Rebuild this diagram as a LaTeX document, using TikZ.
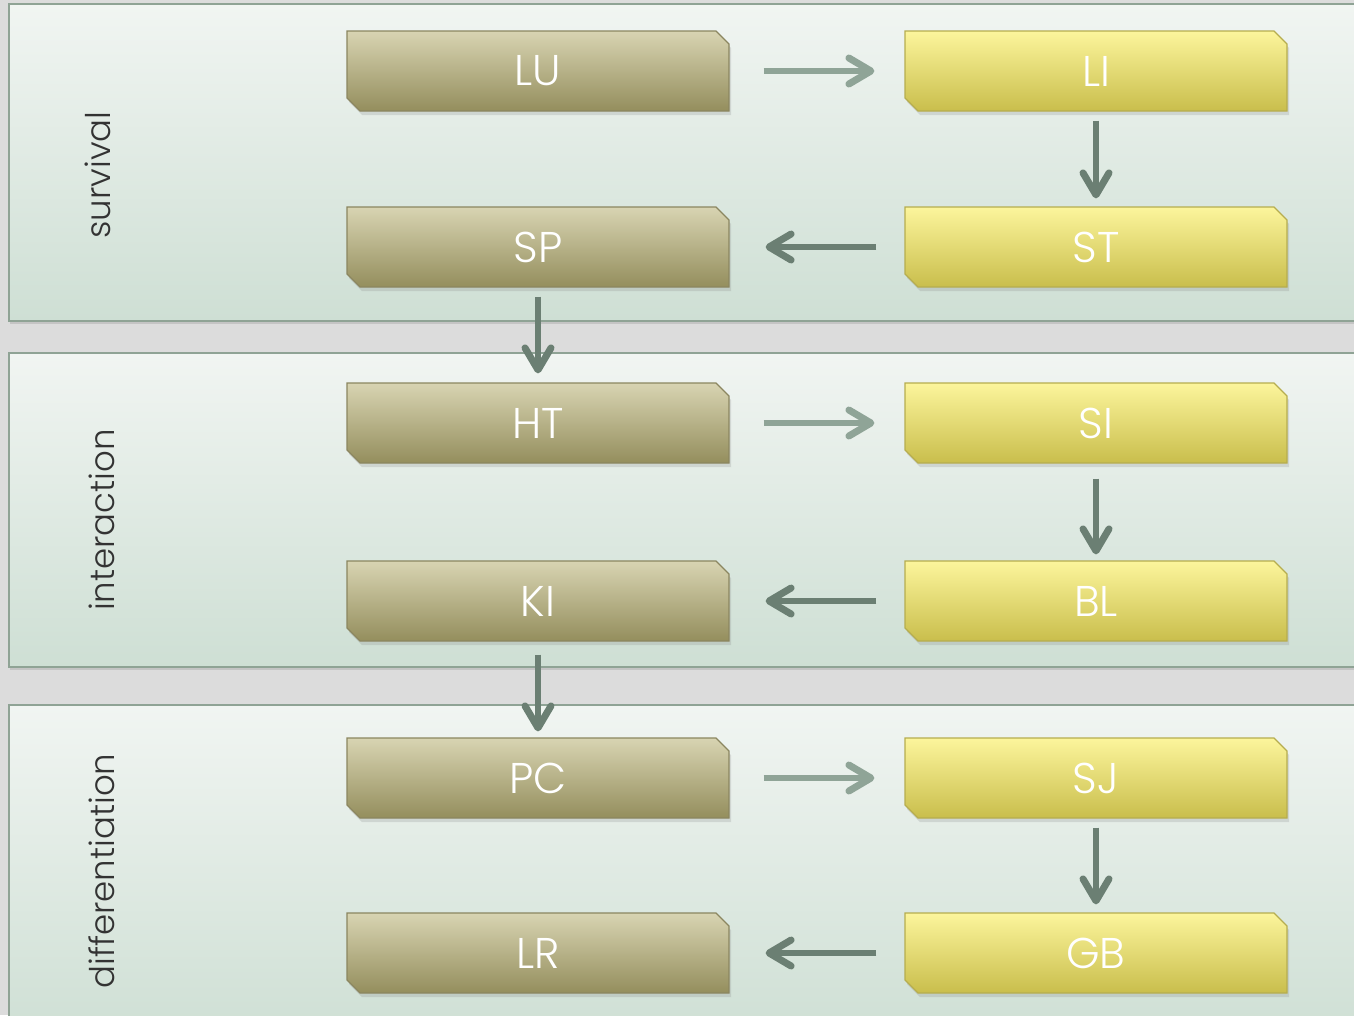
\documentclass[tikz,border=0pt]{standalone}
\usepackage{fontspec}
\setmainfont{Poppins}[UprightFont={* Light}]
\usetikzlibrary{shapes.misc,arrows.meta,shadows}
\definecolor{bg}{HTML}{DCDCDC}
\definecolor{bandtop}{HTML}{F1F5F2}
\definecolor{bandbot}{HTML}{CEDFD4}
\definecolor{bandedge}{HTML}{8FA395}
\definecolor{ltop}{HTML}{D8D4B2}
\definecolor{lbot}{HTML}{948E5D}
\definecolor{ledge}{HTML}{8B8660}
\definecolor{rtop}{HTML}{FCF59C}
\definecolor{rbot}{HTML}{C9BE4C}
\definecolor{redge}{HTML}{B6AD4F}
\definecolor{arlight}{HTML}{8FA497}
\definecolor{ardark}{HTML}{6B7F73}
\definecolor{labtext}{HTML}{333333}
\begin{document}
\begin{tikzpicture}[x=1pt,y=-1pt,
  band/.style={draw=bandedge, line width=1.5pt, top color=bandtop, bottom color=bandbot,
    drop shadow={shadow xshift=1pt, shadow yshift=-3pt, opacity=0.25}},
  boxbase/.style={chamfered rectangle, chamfered rectangle corners={north east,south west},
    chamfered rectangle xsep=6.5pt, chamfered rectangle ysep=6.5pt,
    minimum width=382pt, minimum height=80pt, inner sep=0pt, line width=1.2pt,
    text=white, font=\fontsize{43}{46}\selectfont,
    drop shadow={shadow xshift=2pt, shadow yshift=-4pt, opacity=0.22}},
  lbox/.style={boxbase, draw=ledge, top color=ltop, bottom color=lbot},
  rbox/.style={boxbase, draw=redge, top color=rtop, bottom color=rbot},
  bandlabel/.style={rotate=90, text=labtext, font=\fontsize{34}{38}\selectfont, inner sep=0pt},
  arr/.style={line width=5.5pt, -{Straight Barb[length=22pt,width=26pt,line width=7pt,round]}},
  arl/.style={arr, draw=arlight},
  ard/.style={arr, draw=ardark}
]
\useasboundingbox (0,0) rectangle (1354,1015);
\fill[bg] (0,0) rectangle (1354,1015);
\path[band] (9,4) rectangle (1372,321);
\path[band] (9,353) rectangle (1372,667);
\path[band] (9,705) rectangle (1372,1040);

\node[bandlabel] (lab1) at (98,175) {survival};
\node[bandlabel] (lab2) at (102,520) {interaction};
\node[bandlabel] (lab3) at (102,871) {differentiation};

\node[lbox] (LU) at (538,71) {LU};
\node[rbox] (LI) at (1096,71) {LI};
\node[lbox] (SP) at (538,247) {SP};
\node[rbox] (ST) at (1096,247) {ST};
\node[lbox] (HT) at (538,423) {HT};
\node[rbox] (SI) at (1096,423) {SI};
\node[lbox] (KI) at (538,601) {KI};
\node[rbox] (BL) at (1096,601) {BL};
\node[lbox] (PC) at (538,778) {PC};
\node[rbox] (SJ) at (1096,778) {SJ};
\node[lbox] (LR) at (538,953) {LR};
\node[rbox] (GB) at (1096,953) {GB};

\draw[arl, shorten <=34pt, shorten >=30pt] (LU.east) -- (LI.west);
\draw[ard, shorten <=9pt, shorten >=8pt] (LI.south) -- (ST.north);
\draw[ard, shorten <=28pt, shorten >=36pt] (ST.west) -- (SP.east);
\draw[ard, shorten <=9pt, shorten >=9pt] (SP.south) -- (HT.north);
\draw[arl, shorten <=34pt, shorten >=30pt] (HT.east) -- (SI.west);
\draw[ard, shorten <=15pt, shorten >=6pt] (SI.south) -- (BL.north);
\draw[ard, shorten <=28pt, shorten >=36pt] (BL.west) -- (KI.east);
\draw[ard, shorten <=13pt, shorten >=6pt] (KI.south) -- (PC.north);
\draw[arl, shorten <=34pt, shorten >=30pt] (PC.east) -- (SJ.west);
\draw[ard, shorten <=9pt, shorten >=8pt] (SJ.south) -- (GB.north);
\draw[ard, shorten <=28pt, shorten >=36pt] (GB.west) -- (LR.east);
\end{tikzpicture}
\end{document}
